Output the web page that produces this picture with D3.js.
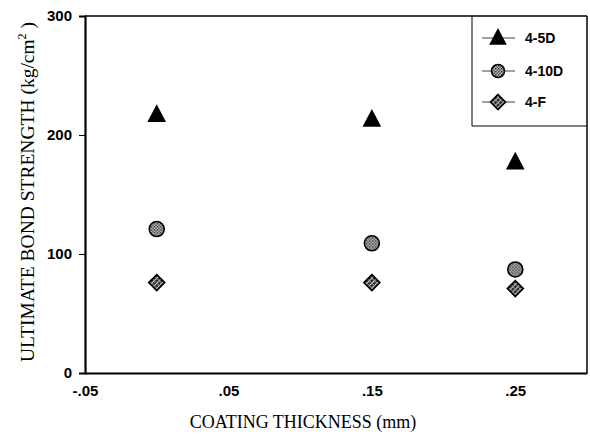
<!DOCTYPE html>
<html>
<head>
<meta charset="utf-8">
<script src="https://cdn.jsdelivr.net/npm/d3@7/dist/d3.min.js"></script>
<style>
  html, body { margin: 0; padding: 0; background: #fff; }
  svg { display: block; }
</style>
</head>
<body>
<svg id="chart" width="590" height="440"></svg>
<script>
// Bond strength vs. coating thickness for three bar/coating types
const thickness = [0, 0.15, 0.25];
const series = ["4-5D", "4-10D", "4-F"];
const strength5D = [217, 213, 177];
const strength10D = [121, 109, 87];
const strengthF = [76, 76, 71];
const xTicks = [-0.05, 0.05, 0.15, 0.25];
const xTickLabels = ["-.05", ".05", ".15", ".25"];
const yTicks = [0, 100, 200, 300];

const svg = d3.select("#chart");
const plotL = 85, plotR = 587, plotT = 16, plotB = 373;

const x = d3.scaleLinear().domain([-0.05, 0.30]).range([plotL, plotR]);
const y = d3.scaleLinear().domain([0, 300]).range([plotB, plotT]);

// hatched fills for the circle and diamond markers
const defs = svg.append("defs");
const pc = defs.append("pattern").attr("id", "hatchCircle")
  .attr("patternUnits", "userSpaceOnUse").attr("width", 3).attr("height", 3);
pc.append("rect").attr("width", 3).attr("height", 3).attr("fill", "#c4c4c4");
pc.append("rect").attr("width", 1.5).attr("height", 1.5).attr("fill", "#2e2e2e");
pc.append("rect").attr("x", 1.5).attr("y", 1.5).attr("width", 1.5).attr("height", 1.5).attr("fill", "#555");
const pd = defs.append("pattern").attr("id", "hatchDiamond")
  .attr("patternUnits", "userSpaceOnUse").attr("width", 3.5).attr("height", 3.5)
  .attr("patternTransform", "rotate(45)");
pd.append("rect").attr("width", 3.5).attr("height", 3.5).attr("fill", "#2a2a2a");
pd.append("rect").attr("width", 1).attr("height", 3.5).attr("fill", "#cfcfcf");
pd.append("rect").attr("width", 3.5).attr("height", 0.8).attr("fill", "#9a9a9a");

// plot frame
svg.append("line").attr("x1", plotL).attr("x2", plotR).attr("y1", plotT).attr("y2", plotT)
  .attr("stroke", "#000").attr("stroke-width", 1.5);
svg.append("line").attr("x1", plotR).attr("x2", plotR).attr("y1", plotT).attr("y2", plotB)
  .attr("stroke", "#000").attr("stroke-width", 1.5);

// y axis
const yAxis = d3.axisLeft(y).tickValues(yTicks).tickSize(6).tickPadding(7).tickFormat(d3.format("d"));
const gy = svg.append("g").attr("transform", `translate(${plotL},0)`).call(yAxis);
gy.select(".domain").attr("stroke-width", 2.2);
gy.selectAll(".tick line").attr("stroke-width", 1);
gy.selectAll("text").attr("font-family", "Liberation Sans, Arial, sans-serif")
  .attr("font-weight", "bold").attr("font-size", 15).attr("fill", "#000");

// x axis
const xAxis = d3.axisBottom(x).tickValues(xTicks).tickSize(0).tickPadding(12)
  .tickFormat((d, i) => xTickLabels[i]);
const gx = svg.append("g").attr("transform", `translate(0,${plotB})`).call(xAxis);
gx.select(".domain").attr("stroke-width", 2.2);
gx.selectAll("text").attr("font-family", "Liberation Sans, Arial, sans-serif")
  .attr("font-weight", "bold").attr("font-size", 15).attr("fill", "#000");

// axis titles
svg.append("text").attr("x", 303).attr("y", 428).attr("text-anchor", "middle")
  .attr("font-family", "Liberation Serif, Times New Roman, serif").attr("font-size", 18)
  .text("COATING THICKNESS (mm)");
const yt = svg.append("text").attr("transform", "translate(34,192) rotate(-90)")
  .attr("text-anchor", "middle")
  .attr("font-family", "Liberation Serif, Times New Roman, serif").attr("font-size", 19.5);
yt.append("tspan").text("ULTIMATE BOND STRENGTH (kg/cm");
yt.append("tspan").attr("font-size", 12).attr("dy", -8).text("2");
yt.append("tspan").attr("dy", 8).text(" )");

// marker drawing
const triPath = s => `M0,${-s * 0.62}L${s * 0.55},${s * 0.42}L${-s * 0.55},${s * 0.42}Z`;
const diaPath = s => `M0,${-s}L${s},0L0,${s}L${-s},0Z`;
function marker(g, kind, size) {
  if (kind === 0) {
    g.append("path").attr("d", triPath(size)).attr("fill", "#000");
  } else if (kind === 1) {
    g.append("circle").attr("r", size * 0.5).attr("fill", "url(#hatchCircle)")
      .attr("stroke", "#000").attr("stroke-width", 1.6);
  } else {
    g.append("path").attr("d", diaPath(size * 0.5)).attr("fill", "url(#hatchDiamond)")
      .attr("stroke", "#000").attr("stroke-width", 1.6);
  }
}

const allSeries = [strength5D, strength10D, strengthF];
const sizes = [17, 15, 16];
allSeries.forEach((vals, k) => {
  svg.append("g").selectAll("g").data(vals).join("g")
    .attr("transform", (d, i) => `translate(${x(thickness[i])},${y(d)})`)
    .each(function () { marker(d3.select(this), k, sizes[k]); });
});

// legend box
const lg = svg.append("g");
lg.append("path").attr("d", `M472,${plotT}V126H${plotR}`).attr("fill", "none")
  .attr("stroke", "#000").attr("stroke-width", 1);
const rowsY = [38, 71, 102];
series.forEach((name, k) => {
  lg.append("line").attr("x1", 482).attr("x2", 515).attr("y1", rowsY[k]).attr("y2", rowsY[k])
    .attr("stroke", "#444").attr("stroke-width", 1);
  const m = lg.append("g").attr("transform", `translate(498,${rowsY[k]})`);
  marker(m, k, [16, 13, 15][k]);
  lg.append("text").attr("x", 525).attr("y", rowsY[k]).attr("dy", "0.36em")
    .attr("font-family", "Liberation Sans, Arial, sans-serif").attr("font-weight", "bold")
    .attr("font-size", 14).text(name);
});
</script>
</body>
</html>
